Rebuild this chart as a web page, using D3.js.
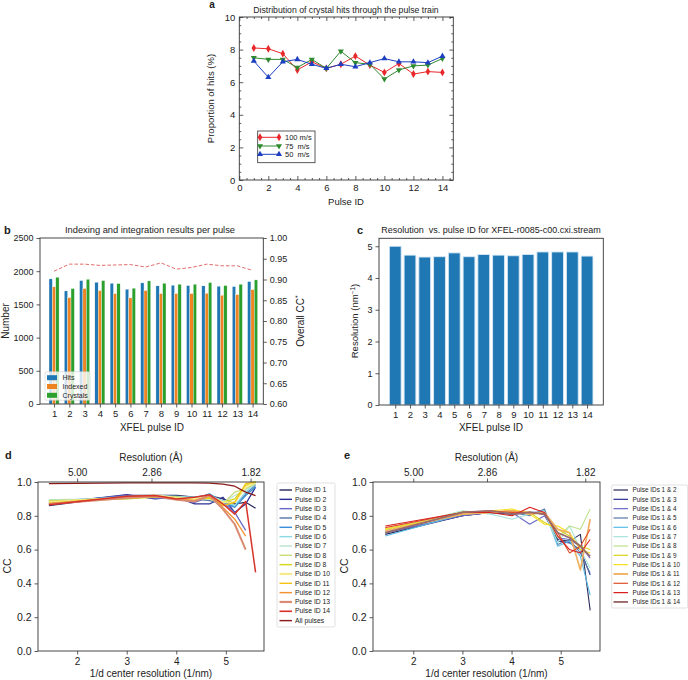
<!DOCTYPE html>
<html><head><meta charset="utf-8">
<script src="https://cdn.jsdelivr.net/npm/d3@7"></script>
<style>body{margin:0;background:#fff}</style>
</head><body><svg id="chart" width="688" height="680"></svg>
<script>
const FONT = "'Liberation Sans', Arial, Helvetica, sans-serif";

// ---------------- data ----------------
// panel a
const pulseIds = [1,2,3,4,5,6,7,8,9,10,11,12,13,14];
const hits100 = [8.1, 8.05, 7.75, 6.75, 7.25, 6.85, 7.1, 7.6, 7.05, 6.6, 7.15, 6.5, 6.65, 6.6];
const hits75  = [7.5, 7.4, 7.4, 6.9, 7.4, 6.85, 7.9, 7.2, 7.1, 6.2, 6.75, 7.0, 7.05, 7.45];
const hits50  = [7.3, 6.3, 7.25, 7.4, 7.1, 6.85, 7.1, 6.95, 7.2, 7.45, 7.25, 7.25, 7.2, 7.6];
const speedLabels = ["100 m/s", "75  m/s", "50  m/s"];
const aTicksX = [0,2,4,6,8,10,12,14];
const aTicksY = [0,2,4,6,8,10];
// panel b
const nHits     = [1884, 1703, 1859, 1834, 1819, 1729, 1824, 1779, 1789, 1784, 1779, 1774, 1769, 1844];
const nIndexed  = [1764, 1603, 1739, 1708, 1663, 1598, 1708, 1663, 1663, 1663, 1668, 1638, 1648, 1723];
const nCrystals = [1909, 1739, 1879, 1859, 1814, 1744, 1854, 1819, 1804, 1804, 1829, 1784, 1804, 1869];
const ccStar    = [0.920, 0.937, 0.937, 0.934, 0.935, 0.936, 0.930, 0.940, 0.925, 0.929, 0.937, 0.933, 0.933, 0.922];
const bSeries = ["Hits", "Indexed", "Crystals"];
const bTicksLeft = [0,500,1000,1500,2000,2500];
const bTicksRight = [0.60,0.65,0.70,0.75,0.80,0.85,0.90,0.95,1.00];
// panel c
const resolution = [5.0, 4.72, 4.66, 4.67, 4.79, 4.67, 4.74, 4.72, 4.70, 4.74, 4.82, 4.82, 4.82, 4.69];
const cTicksY = [0,1,2,3,4,5];
// panels d, e
const invD = [1.43, 3.0, 3.57, 4.01, 4.37, 4.67, 4.94, 5.18, 5.40, 5.60];
const dLabels = ["Pulse ID 1","Pulse ID 2","Pulse ID 3","Pulse ID 4","Pulse ID 5","Pulse ID 6","Pulse ID 7",
  "Pulse ID 8","Pulse ID 8","Pulse ID 10","Pulse ID 11","Pulse ID 12","Pulse ID 13","Pulse ID 14","All pulses"];
const ccSingle = [
  [0.86, 0.92, 0.92, 0.92, 0.91, 0.92, 0.90, 0.87, 0.88, 0.845],
  [0.87, 0.925, 0.90, 0.91, 0.87, 0.87, 0.91, 0.82, 0.87, 0.97],
  [0.875, 0.92, 0.905, 0.90, 0.88, 0.91, 0.88, 0.82, 0.714, null],
  [0.88, 0.91, 0.91, 0.915, 0.90, 0.89, 0.87, 0.86, 0.93, 0.98],
  [0.885, 0.915, 0.915, 0.91, 0.90, 0.93, 0.88, 0.85, 0.92, 0.97],
  [0.89, 0.905, 0.92, 0.915, 0.91, 0.92, 0.89, 0.86, 0.94, 0.99],
  [0.895, 0.90, 0.92, 0.91, 0.905, 0.91, 0.88, 0.92, 0.95, 1.0],
  [0.89, 0.905, 0.915, 0.905, 0.90, 0.90, 0.87, 0.94, 0.96, 0.99],
  [0.885, 0.90, 0.91, 0.91, 0.90, 0.905, 0.88, 0.90, 0.98, 1.0],
  [0.88, 0.91, 0.92, 0.905, 0.90, 0.915, 0.88, 0.88, 0.97, 1.0],
  [0.875, 0.91, 0.915, 0.90, 0.89, 0.91, 0.86, 0.88, 0.99, 1.0],
  [0.87, 0.91, 0.92, 0.90, 0.89, 0.92, 0.85, 0.78, 0.68, null],
  [0.87, 0.905, 0.915, 0.895, 0.885, 0.92, 0.84, 0.75, 0.60, null],
  [0.865, 0.915, 0.92, 0.90, 0.91, 0.925, 0.87, 0.81, 0.885, 0.465],
  [0.99, 0.995, 0.995, 0.995, 0.995, 0.993, 0.988, 0.975, 0.94, 0.92]
];
const eLabels = ["Pulse IDs 1 & 2","Pulse IDs 1 & 3","Pulse IDs 1 & 4","Pulse IDs 1 & 5","Pulse IDs 1 & 6",
  "Pulse IDs 1 & 7","Pulse IDs 1 & 8","Pulse IDs 1 & 9","Pulse IDs 1 & 10","Pulse IDs 1 & 11",
  "Pulse IDs 1 & 12","Pulse IDs 1 & 13","Pulse IDs 1 & 14"];
const ccPair = [
  [0.69, 0.80, 0.82, 0.81, 0.82, 0.81, 0.66, 0.65, 0.69, 0.24],
  [0.70, 0.80, 0.82, 0.81, 0.82, 0.82, 0.65, 0.64, 0.60, 0.45],
  [0.70, 0.80, 0.82, 0.82, 0.75, 0.80, 0.67, 0.66, 0.62, 0.55],
  [0.71, 0.81, 0.825, 0.82, 0.80, 0.84, 0.63, 0.66, 0.58, 0.46],
  [0.68, 0.81, 0.82, 0.82, 0.81, 0.83, 0.62, 0.65, 0.56, 0.33],
  [0.71, 0.83, 0.81, 0.78, 0.81, 0.82, 0.64, 0.74, 0.60, 0.49],
  [0.72, 0.825, 0.82, 0.83, 0.81, 0.82, 0.67, 0.74, 0.72, 0.84],
  [0.72, 0.81, 0.82, 0.83, 0.82, 0.76, 0.72, 0.68, 0.62, 0.60],
  [0.72, 0.81, 0.83, 0.84, 0.81, 0.75, 0.74, 0.70, 0.60, 0.58],
  [0.71, 0.81, 0.82, 0.83, 0.81, 0.82, 0.72, 0.70, 0.48, 0.78],
  [0.73, 0.82, 0.83, 0.82, 0.82, 0.81, 0.70, 0.58, 0.62, 0.72],
  [0.74, 0.82, 0.82, 0.80, 0.85, 0.82, 0.68, 0.60, 0.58, 0.66],
  [0.70, 0.82, 0.83, 0.81, 0.82, 0.81, 0.70, 0.67, 0.62, 0.56]
];
const deTicksX = [2,3,4,5];
const deTicksY = [0,0.2,0.4,0.6,0.8,1.0];
const topTickPos = [2, 3.5, 5.5];
const topTickLabels = ["5.00", "2.86", "1.82"];

// ---------------- styles ----------------
const dColors = ["#2b2b5e","#2e3192","#6a6ac8","#5878a8","#3a8fd8","#8dd9e6","#b9e3d0","#c8dc7a","#d6d61a",
  "#f5eb8a","#f5c216","#f39330","#d98c72","#d8332a","#8b1a1a"];
const dWidths = [1.3,1.3,1.3,1.3,1.3,1.3,1.3,1.3,1.3,2,1.3,1.3,2,1.5,1.3];
const eColors = ["#2b2b5e","#2e3192","#6a6ac8","#5878a8","#5bbde6","#a8e4dc","#bfe08a","#d8d41a","#f8e020",
  "#f0b060","#e0502a","#d82020","#9a6a6a"];
const eWidths = [1.1,1.1,1.1,1.1,1.1,1.1,1.1,1.1,1.1,1.7,1.1,1.1,1.7];

const svg = d3.select("#chart");
svg.append("rect").attr("width",688).attr("height",680).attr("fill","#fff");

function styleAxis(g, fs) {
  g.attr("font-family", FONT).attr("font-size", fs);
  g.select(".domain").remove();
  g.selectAll(".tick line").attr("stroke", "#333").attr("stroke-width", 0.8);
  g.selectAll(".tick text").attr("fill", "#222");
  return g;
}
function frame(x0, y0, x1, y1) {
  svg.append("rect").attr("x", x0).attr("y", y0).attr("width", x1 - x0).attr("height", y1 - y0)
    .attr("fill", "none").attr("stroke", "#333").attr("stroke-width", 0.9);
}
function text(x, y, s, o = {}) {
  const t = svg.append("text").attr("x", x).attr("y", y).text(s)
    .attr("font-family", FONT).attr("font-size", o.fs || 10)
    .attr("text-anchor", o.anchor || "middle").attr("fill", "#222");
  if (o.bold) t.attr("font-weight", "bold");
  if (o.rot) t.attr("transform", `rotate(${o.rot},${x},${y})`);
  return t;
}
const fmtInt = d3.format("d");

// ================= panel a =================
{
  const x = d3.scaleLinear([0, 14.75], [239.3, 453.3]);
  const y = d3.scaleLinear([0, 10], [180, 17]);
  const minorX = d3.range(0, 14.75, 0.5).filter(v => v % 2 !== 0);
  const minorY = d3.range(0, 10, 0.5).filter(v => v % 2 !== 0);
  styleAxis(svg.append("g").attr("transform", "translate(0,180)")
    .call(d3.axisBottom(x).tickValues(aTicksX).tickSize(-4).tickPadding(4).tickFormat(fmtInt)), 9.5);
  styleAxis(svg.append("g").attr("transform", "translate(0,180)")
    .call(d3.axisBottom(x).tickValues(minorX).tickSize(-2).tickFormat("")), 9.5);
  styleAxis(svg.append("g").attr("transform", "translate(0,17)")
    .call(d3.axisTop(x).tickValues(aTicksX).tickSize(-4).tickFormat("")), 9.5);
  styleAxis(svg.append("g").attr("transform", "translate(0,17)")
    .call(d3.axisTop(x).tickValues(minorX).tickSize(-2).tickFormat("")), 9.5);
  styleAxis(svg.append("g").attr("transform", "translate(239.3,0)")
    .call(d3.axisLeft(y).tickValues(aTicksY).tickSize(-4).tickPadding(4).tickFormat(fmtInt)), 9.5);
  styleAxis(svg.append("g").attr("transform", "translate(239.3,0)")
    .call(d3.axisLeft(y).tickValues(minorY).tickSize(-2).tickFormat("")), 9.5);
  styleAxis(svg.append("g").attr("transform", "translate(453.3,0)")
    .call(d3.axisRight(y).tickValues(aTicksY).tickSize(-4).tickFormat("")), 9.5);
  styleAxis(svg.append("g").attr("transform", "translate(453.3,0)")
    .call(d3.axisRight(y).tickValues(minorY).tickSize(-2).tickFormat("")), 9.5);
  frame(239.3, 17, 453.3, 180);

  const series = [
    {vals: hits100, color: "#e8272a", sym: d3.symbolDiamond, rot: 0, size: 18},
    {vals: hits75, color: "#2f8a2f", sym: d3.symbolTriangle, rot: 180, size: 16},
    {vals: hits50, color: "#1d3fc0", sym: d3.symbolTriangle, rot: 0, size: 16}
  ];
  const line = d3.line().x((d, i) => x(pulseIds[i])).y(d => y(d));
  series.forEach(s => {
    svg.append("path").attr("d", line(s.vals)).attr("fill", "none")
      .attr("stroke", s.color).attr("stroke-width", 1);
    svg.append("g").selectAll("path").data(s.vals).join("path")
      .attr("d", d3.symbol(s.sym, s.size))
      .attr("transform", (d, i) => `translate(${x(pulseIds[i])},${y(d)}) rotate(${s.rot})`)
      .attr("fill", s.color);
  });
  // legend
  svg.append("rect").attr("x", 257.7).attr("y", 131).attr("width", 57.3).attr("height", 31.7)
    .attr("fill", "#fff").attr("stroke", "#333").attr("stroke-width", 0.8);
  const ly = [137.3, 146, 154.3];
  series.forEach((s, i) => {
    svg.append("line").attr("x1", 260).attr("x2", 279).attr("y1", ly[i]).attr("y2", ly[i])
      .attr("stroke", s.color).attr("stroke-width", 1);
    [260, 279].forEach(px => svg.append("path").attr("d", d3.symbol(s.sym, s.size)())
      .attr("transform", `translate(${px},${ly[i]}) rotate(${s.rot})`).attr("fill", s.color));
    text(285, ly[i] + 2.6, speedLabels[i], {fs: 7.5, anchor: "start"}).style("white-space", "pre");
  });
  text(346, 13, "Distribution of crystal hits through the pulse train", {fs: 8.7});
  text(212, 8, "a", {fs: 10, bold: true});
  text(346, 205, "Pulse ID", {fs: 9.5});
  text(214, 98.5, "Proportion of hits (%)", {fs: 9.5, rot: -90});
}

// ================= panel b =================
{
  const x = d3.scaleLinear([0.08, 14.7], [40, 263.3]);
  const y = d3.scaleLinear([0, 2500], [404, 238]);
  const y2 = d3.scaleLinear([0.6, 1.0], [404, 238]);
  const bw = 0.22;
  const cols = ["#1f77b4", "#ee8322", "#2ca02c"];
  const offs = [-0.33, -0.11, 0.11];
  [nHits, nIndexed, nCrystals].forEach((arr, k) => {
    svg.append("g").selectAll("rect").data(arr).join("rect")
      .attr("x", (d, i) => x(pulseIds[i] + offs[k]))
      .attr("width", x(bw) - x(0))
      .attr("y", d => y(d)).attr("height", d => y(0) - y(d))
      .attr("fill", cols[k]).attr("stroke", "#fff").attr("stroke-width", 0.35);
  });
  svg.append("path").attr("d", d3.line().x((d, i) => x(pulseIds[i])).y(d => y2(d))(ccStar))
    .attr("fill", "none").attr("stroke", "#e05a5a").attr("stroke-width", 0.9).attr("stroke-dasharray", "3.5,2");
  styleAxis(svg.append("g").attr("transform", "translate(0,404)")
    .call(d3.axisBottom(x).tickValues(pulseIds).tickSize(3.5).tickPadding(3).tickFormat(fmtInt)), 9.5);
  styleAxis(svg.append("g").attr("transform", "translate(40,0)")
    .call(d3.axisLeft(y).tickValues(bTicksLeft).tickSize(3.5).tickPadding(3).tickFormat(fmtInt)), 9);
  styleAxis(svg.append("g").attr("transform", "translate(263.3,0)")
    .call(d3.axisRight(y2).tickValues(bTicksRight).tickSize(3.5).tickPadding(3).tickFormat(d3.format(".2f"))), 9);
  frame(40, 238, 263.3, 404);
  // legend
  svg.append("rect").attr("x", 45).attr("y", 371.7).attr("width", 45).attr("height", 28.5)
    .attr("fill", "#fff").attr("fill-opacity", 0.8).attr("stroke", "#ccc").attr("stroke-width", 0.6).attr("rx", 1.5);
  const ly = [377.7, 386.5, 395.3];
  bSeries.forEach((s, i) => {
    svg.append("rect").attr("x", 47).attr("y", ly[i] - 2.5).attr("width", 10).attr("height", 5).attr("fill", cols[i]);
    text(62.5, ly[i] + 2.4, s, {fs: 7, anchor: "start"});
  });
  text(150, 233, "Indexing and integration results per pulse", {fs: 9.3});
  text(4, 234, "b", {fs: 11, bold: true, anchor: "start"});
  text(152, 431, "XFEL pulse ID", {fs: 10});
  text(9, 321, "Number", {fs: 10, rot: -90});
  const t = text(304, 321, "Overall CC", {fs: 10, rot: -90});
  t.append("tspan").attr("dy", -4).attr("font-size", 7).text("*");
}

// ================= panel c =================
{
  const x = d3.scaleLinear([-0.1, 15.1], [379, 603.3]);
  const y = d3.scaleLinear([0, 5.25], [405, 238.3]);
  svg.append("g").selectAll("rect").data(resolution).join("rect")
    .attr("x", (d, i) => x(pulseIds[i] - 0.4)).attr("width", x(0.8) - x(0))
    .attr("y", d => y(d)).attr("height", d => y(0) - y(d))
    .attr("fill", "#1f77b4").attr("stroke", "#d6e8f5").attr("stroke-width", 0.9);
  styleAxis(svg.append("g").attr("transform", "translate(0,405)")
    .call(d3.axisBottom(x).tickValues(pulseIds).tickSize(3.5).tickPadding(3).tickFormat(fmtInt)), 9.5);
  styleAxis(svg.append("g").attr("transform", "translate(379,0)")
    .call(d3.axisLeft(y).tickValues(cTicksY).tickSize(3.5).tickPadding(3).tickFormat(fmtInt)), 9);
  frame(379, 238.3, 603.3, 405);
  text(491, 233, "Resolution  vs. pulse ID for XFEL-r0085-c00.cxi.stream", {fs: 9}).style("white-space", "pre");
  text(357, 234, "c", {fs: 11, bold: true, anchor: "start"});
  text(491, 431, "XFEL pulse ID", {fs: 10});
  const t = text(358, 321, "Resolution (nm", {fs: 9.5, rot: -90});
  t.append("tspan").attr("dy", -3.5).attr("font-size", 6.5).text("\u22121");
  t.append("tspan").attr("dy", 3.5).text(")");
}

// ================= panels d & e =================
function resPanel(opts) {
  const {x0, x1, dom, series, colors, widths, labels, leg, letter, letterX, ylabX} = opts;
  const x = d3.scaleLinear(dom, [x0, x1]);
  const y = d3.scaleLinear([0, 1], [651, 482]);
  const line = d3.line().defined(d => d != null).x((d, i) => x(invD[i])).y(d => y(d));
  series.forEach((s, i) => {
    svg.append("path").attr("d", line(s)).attr("fill", "none")
      .attr("stroke", colors[i]).attr("stroke-width", widths[i]).attr("stroke-linejoin", "round");
  });
  styleAxis(svg.append("g").attr("transform", "translate(0,651)")
    .call(d3.axisBottom(x).tickValues(deTicksX).tickSize(3.5).tickPadding(3).tickFormat(fmtInt)), 10);
  styleAxis(svg.append("g").attr("transform", `translate(${x0},0)`)
    .call(d3.axisLeft(y).tickValues(deTicksY).tickSize(3.5).tickPadding(3).tickFormat(d3.format(".1f"))), 10.5);
  styleAxis(svg.append("g").attr("transform", "translate(0,482)")
    .call(d3.axisTop(x).tickValues(topTickPos).tickSize(3.5).tickPadding(2.5).tickFormat((d, i) => topTickLabels[i])), 10);
  frame(x0, 482, x1, 651);
  const cx = (x0 + x1) / 2;
  text(cx, 461, "Resolution (\u00c5)", {fs: 10});
  text(cx, 676.5, "1/d center resolution (1/nm)", {fs: 10});
  text(ylabX, 566, "CC", {fs: 10.5, rot: -90});
  text(letterX, 459, letter, {fs: 11, bold: true, anchor: "start"});
  // legend
  svg.append("rect").attr("x", leg.x).attr("y", leg.y).attr("width", leg.w).attr("height", leg.h)
    .attr("fill", "#fff").attr("stroke", "#ccc").attr("stroke-width", 0.6).attr("rx", 1.5);
  labels.forEach((lab, i) => {
    const yy = leg.y0 + i * 9.33;
    svg.append("line").attr("x1", leg.lx0).attr("x2", leg.lx1).attr("y1", yy).attr("y2", yy)
      .attr("stroke", colors[i]).attr("stroke-width", widths[i] * 1.1);
    text(leg.tx, yy + 2.2, lab, {fs: leg.fs, anchor: "start"});
  });
}
resPanel({x0: 38, x1: 264, dom: [1.21, 5.77], series: ccSingle, colors: dColors, widths: dWidths,
  labels: dLabels, letter: "d", letterX: 5, ylabX: 11,
  leg: {x: 277, y: 483, w: 58, h: 144, y0: 490, lx0: 279.5, lx1: 292, tx: 295, fs: 6.8}});
resPanel({x0: 373, x1: 600, dom: [1.18, 5.8], series: ccPair, colors: eColors, widths: eWidths,
  labels: eLabels, letter: "e", letterX: 344, ylabX: 348,
  leg: {x: 611.7, y: 485, w: 76, h: 123, y0: 490, lx0: 613.5, lx1: 628, tx: 632.5, fs: 6.4}});
</script>
</body></html>
